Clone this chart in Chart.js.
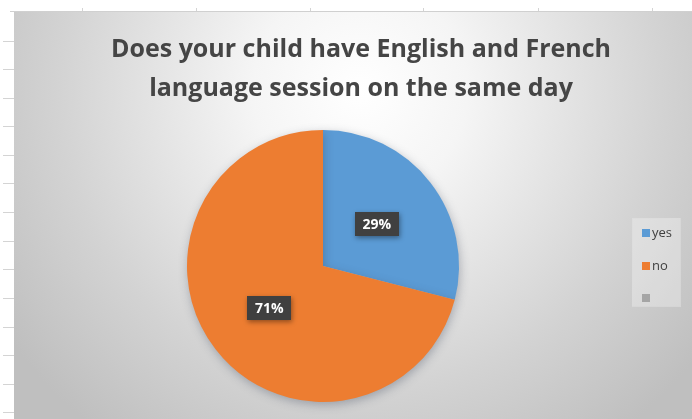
<!DOCTYPE html>
<html>
<head>
<meta charset="utf-8">
<script src="https://cdn.jsdelivr.net/npm/chart.js@4"></script>
<style>
html,body{margin:0;padding:0;background:#fff;}
canvas{display:block;}
</style>
</head>
<body>
<canvas id="c" width="692" height="419"></canvas>
<script>
const categories = ['yes', 'no', ''];
const values = [29, 71, 0];
const colors = ['#5B9BD5', '#ED7D31', '#A5A5A5'];
const titleLines = ['Does your child have English and French', 'language session on the same day'];

const bgPlugin = {
  id: 'bg',
  beforeDraw(chart) {
    const ctx = chart.ctx;
    ctx.save();
    ctx.fillStyle = '#ffffff';
    ctx.fillRect(0, 0, 692, 419);
    // spreadsheet marks
    ctx.strokeStyle = '#d4d4d4';
    ctx.lineWidth = 1;
    for (let y = 40.5; y < 419; y += 28.6) {
      ctx.beginPath(); ctx.moveTo(3, Math.round(y) + 0.5); ctx.lineTo(14, Math.round(y) + 0.5); ctx.stroke();
    }
    [82, 196, 310, 423, 538, 652].forEach(x => {
      ctx.beginPath(); ctx.moveTo(x + 0.5, 8); ctx.lineTo(x + 0.5, 12); ctx.stroke();
    });
    // chart background
    const g = ctx.createRadialGradient(360, 90, 0, 360, 90, 430);
    g.addColorStop(0, '#ffffff');
    g.addColorStop(0.25, '#f5f5f5');
    g.addColorStop(0.7, '#d3d3d3');
    g.addColorStop(1, '#bfbfbf');
    ctx.fillStyle = g;
    ctx.fillRect(14, 12, 678, 407);
    ctx.strokeStyle = '#d0d0d0';
    ctx.beginPath(); ctx.moveTo(10, 11.5); ctx.lineTo(692, 11.5); ctx.stroke();
    ctx.restore();
  },
  beforeDatasetDraw(chart) {
    const ctx = chart.ctx;
    ctx.save();
    ctx.shadowColor = 'rgba(60,70,90,0.35)';
    ctx.shadowBlur = 10;
    ctx.shadowOffsetX = 1;
    ctx.shadowOffsetY = 3;
  },
  afterDatasetDraw(chart) {
    chart.ctx.restore();
  },
  afterDraw(chart) {
    const ctx = chart.ctx;
    ctx.save();
    // title
    ctx.fillStyle = '#454545';
    ctx.textAlign = 'center';
    ctx.textBaseline = 'alphabetic';
    ctx.font = 'bold 25px "Open Sans"';
    ctx.fillText(titleLines[0], 361, 57, 507);
    ctx.fillText(titleLines[1], 361, 96, 433);
    // data labels
    const meta = chart.getDatasetMeta(0);
    const total = values.reduce((a, b) => a + b, 0);
    meta.data.forEach((arc, i) => {
      if (!values[i]) return;
      const p = arc.getProps(['x', 'y', 'startAngle', 'endAngle', 'outerRadius'], true);
      const mid = (p.startAngle + p.endAngle) / 2;
      const r = p.outerRadius * 0.5;
      const cx = p.x + Math.cos(mid) * r;
      const cy = p.y + Math.sin(mid) * r;
      const txt = Math.round(values[i] / total * 100) + '%';
      ctx.font = 'bold 14px "Open Sans"';
      const w = 44, h = 24;
      ctx.save();
      ctx.shadowColor = 'rgba(0,0,0,0.4)';
      ctx.shadowBlur = 5;
      ctx.shadowOffsetX = 1;
      ctx.shadowOffsetY = 2;
      ctx.fillStyle = '#404040';
      ctx.fillRect(Math.round(cx - w / 2), Math.round(cy - h / 2), w, h);
      ctx.restore();
      ctx.fillStyle = '#ffffff';
      ctx.textAlign = 'center';
      ctx.textBaseline = 'middle';
      ctx.fillText(txt, cx, cy + 1, 34);
    });
    // legend
    ctx.fillStyle = 'rgba(255,255,255,0.3)';
    ctx.fillRect(632, 218, 48, 88);
    ctx.strokeStyle = 'rgba(220,220,220,0.7)';
    ctx.strokeRect(632.5, 218.5, 48, 88);
    const ys = [233, 266, 298];
    categories.forEach((c, i) => {
      ctx.fillStyle = colors[i];
      ctx.fillRect(642, ys[i] - 4, 8, 8);
      ctx.fillStyle = '#404040';
      ctx.font = '13px "Open Sans"';
      ctx.textAlign = 'left';
      ctx.textBaseline = 'middle';
      ctx.fillText(c, 652, ys[i], 24);
    });
    ctx.restore();
  }
};

new Chart(document.getElementById('c'), {
  type: 'pie',
  data: {
    labels: categories,
    datasets: [{
      data: values,
      backgroundColor: colors,
      borderWidth: 0
    }]
  },
  options: {
    responsive: false,
    animation: false,
    events: [],
    layout: { padding: { left: 187, right: 233, top: 130, bottom: 17 } },
    plugins: {
      legend: { display: false },
      title: { display: false },
      tooltip: { enabled: false }
    }
  },
  plugins: [bgPlugin]
});
</script>
</body>
</html>
